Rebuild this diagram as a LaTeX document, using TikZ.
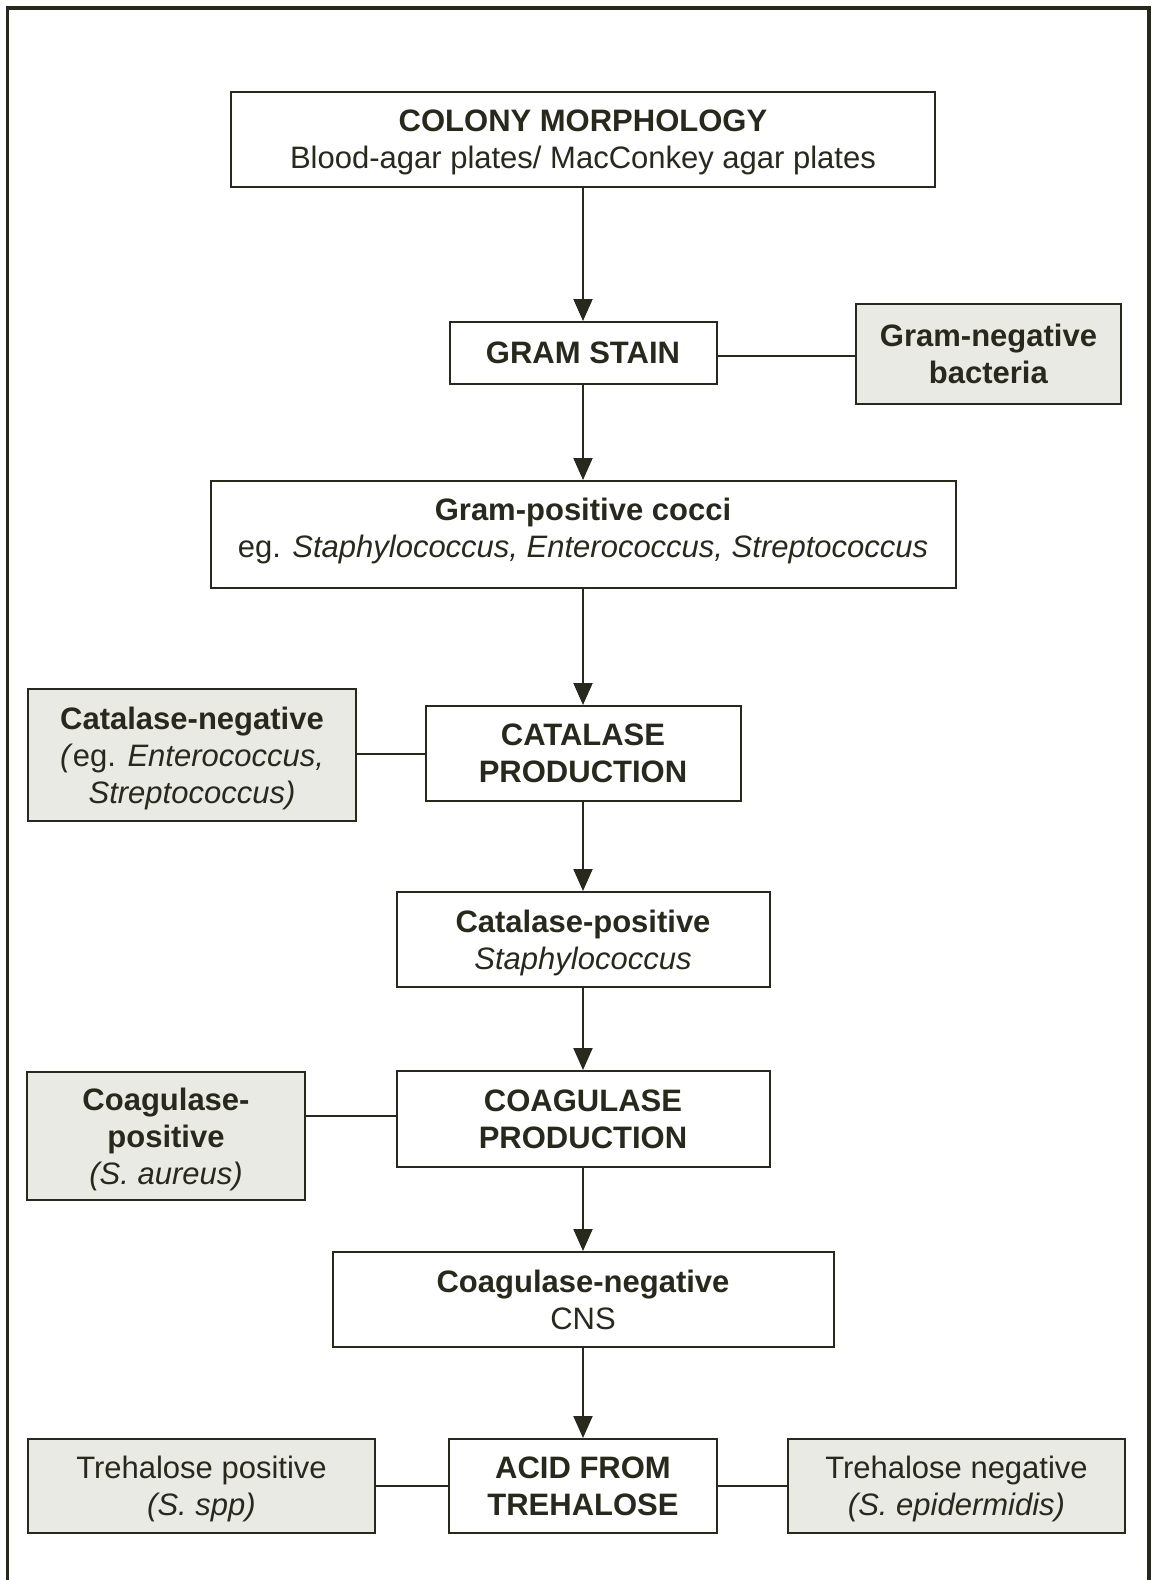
\documentclass[tikz,border=0pt]{standalone}
\usepackage{fontspec}
\setmainfont{Liberation Sans}
\usetikzlibrary{arrows.meta}
\definecolor{ink}{RGB}{40,40,28}
\definecolor{boxgray}{RGB}{234,234,229}
\tikzset{
  box/.style={draw=ink, line width=2pt, fill=white, inner sep=0pt, align=center,
    text=ink, font=\fontsize{31}{37}\selectfont},
  graybox/.style={box, fill=boxgray},
  arr/.style={draw=ink, line width=2pt, -{Triangle[length=22pt,width=19pt]}},
  link/.style={draw=ink, line width=2pt},
}
\begin{document}
\begin{tikzpicture}[x=1pt,y=-1pt]
\fill[white] (0,0) rectangle (1153,1580);
\useasboundingbox (0,0) rectangle (1153,1580);
\draw[ink, line width=3.5pt] (7.5,1582) -- (7.5,8) -- (1149,8) -- (1149,1582);

\node[box, minimum width=704pt, minimum height=95pt, text depth=-3pt] (colony) at (583,139.5)
  {\textbf{COLONY MORPHOLOGY}\\Blood-agar plates/ MacConkey agar plates};
\node[box, minimum width=267pt, minimum height=62pt] (gram) at (583,353)
  {\textbf{GRAM STAIN}};
\node[graybox, minimum width=265pt, minimum height=100pt] (gneg) at (988.5,354)
  {\textbf{Gram-negative}\\\textbf{bacteria}};
\node[box, minimum width=745pt, minimum height=107pt, text depth=12.5pt] (gpos) at (583,534.5)
  {\textbf{Gram-positive cocci}\\eg. \textit{Staphylococcus, Enterococcus, Streptococcus}};
\node[box, minimum width=315pt, minimum height=95pt] (cat) at (583,753.5)
  {\textbf{CATALASE}\\\textbf{PRODUCTION}};
\node[graybox, minimum width=328pt, minimum height=132pt, text depth=-1.5pt] (catneg) at (192,755)
  {\textbf{Catalase-negative}\\\textit{(}eg. \textit{Enterococcus,}\\\textit{Streptococcus)}};
\node[box, minimum width=373pt, minimum height=95pt, text depth=0pt] (catpos) at (583,939.5)
  {\textbf{Catalase-positive}\\\textit{Staphylococcus}};
\node[box, minimum width=373pt, minimum height=96pt] (coag) at (583,1119)
  {\textbf{COAGULASE}\\\textbf{PRODUCTION}};
\node[graybox, minimum width=278pt, minimum height=128pt, text depth=-2.5pt] (coagpos) at (166,1136)
  {\textbf{Coagulase-}\\\textbf{positive}\\\textit{(S. aureus)}};
\node[box, minimum width=501pt, minimum height=95pt] (coagneg) at (583,1299.5)
  {\textbf{Coagulase-negative}\\CNS};
\node[box, minimum width=268pt, minimum height=94pt] (acid) at (583,1486)
  {\textbf{ACID FROM}\\\textbf{TREHALOSE}};
\node[graybox, minimum width=347pt, minimum height=94pt, text depth=-1pt] (trepos) at (201.5,1486)
  {Trehalose positive\\\textit{(S. spp)}};
\node[graybox, minimum width=337pt, minimum height=94pt, text depth=-1pt] (treneg) at (956.5,1486)
  {Trehalose negative\\\textit{(S. epidermidis)}};

\draw[arr] (colony.south) -- (gram.north);
\draw[arr] (gram.south) -- (gpos.north);
\draw[arr] (gpos.south) -- (cat.north);
\draw[arr] (cat.south) -- (catpos.north);
\draw[arr] (catpos.south) -- (coag.north);
\draw[arr] (coag.south) -- (coagneg.north);
\draw[arr] (coagneg.south) -- (acid.north);

\draw[link] ([yshift=-3pt]gram.east) -- ([yshift=-3pt]gram.east -| gneg.west);
\draw[link] (cat.west) -- (cat.west -| catneg.east);
\draw[link] ([yshift=3pt]coag.west) -- ([yshift=3pt]coag.west -| coagpos.east);
\draw[link] (acid.west) -- (acid.west -| trepos.east);
\draw[link] (acid.east) -- (acid.east -| treneg.west);
\end{tikzpicture}
\end{document}
